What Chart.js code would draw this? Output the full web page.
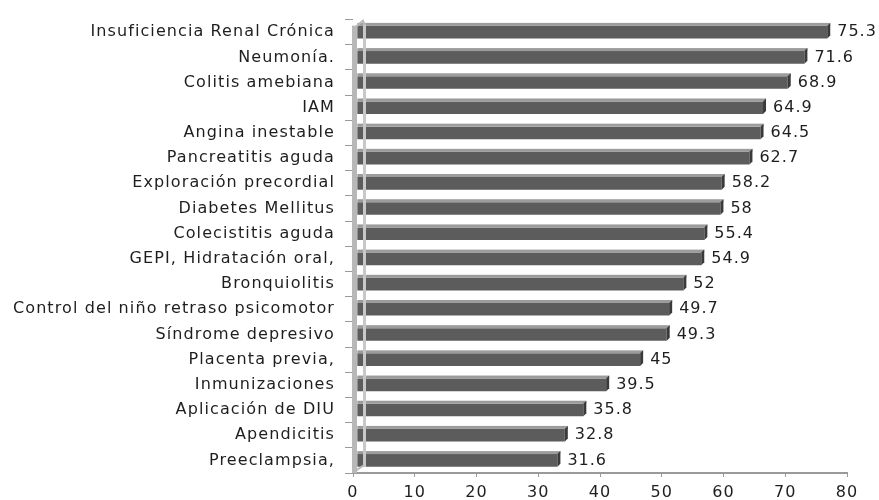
<!DOCTYPE html>
<html>
<head>
<meta charset="utf-8">
<script src="https://cdn.jsdelivr.net/npm/chart.js@4.4.1/dist/chart.umd.min.js"></script>
<style>
  html, body { margin: 0; padding: 0; background: #ffffff; }
  #wrap { width: 879px; height: 500px; position: relative; }
</style>
</head>
<body>
<div id="wrap"><canvas id="chart" width="879" height="500"></canvas></div>
<script>
// Data (top to bottom)
const categories = [
    'Insuficiencia Renal Crónica', 'Neumonía.', 'Colitis amebiana', 'IAM',
    'Angina inestable', 'Pancreatitis aguda', 'Exploración precordial',
    'Diabetes Mellitus', 'Colecistitis aguda', 'GEPI, Hidratación oral,',
    'Bronquiolitis', 'Control del niño retraso psicomotor', 'Síndrome depresivo',
    'Placenta previa,', 'Inmunizaciones', 'Aplicación de DIU', 'Apendicitis',
    'Preeclampsia,'
];
const values = [75.3, 71.6, 68.9, 64.9, 64.5, 62.7, 58.2, 58, 55.4, 54.9,
                52, 49.7, 49.3, 45, 39.5, 35.8, 32.8, 31.6];
const xTicks = [0, 10, 20, 30, 40, 50, 60, 70, 80];

const FONT = 'DejaVu Sans';

// wide text spacing like the original
const spacing = {
    id: 'spacing',
    beforeDraw(chart) { chart.ctx.letterSpacing = '1.1px'; }
};

// fake 3D look: light top edge, dark end cap, grey wall on the left
const bar3d = {
    id: 'bar3d',
    afterDatasetsDraw(chart) {
        const ctx = chart.ctx;
        const meta = chart.getDatasetMeta(0);
        const area = chart.chartArea;
        ctx.save();
        meta.data.forEach((bar, i) => {
            const top = bar.y - bar.height / 2;
            const bottom = bar.y + bar.height / 2;
            // top highlight
            ctx.fillStyle = '#9c9c9c';
            ctx.fillRect(bar.base, top - 3, bar.x - bar.base + 3, 3);
            // end cap
            ctx.fillStyle = '#3a3a3a';
            ctx.beginPath();
            ctx.moveTo(bar.x, top);
            ctx.lineTo(bar.x + 3, top - 3);
            ctx.lineTo(bar.x + 3, bottom - 3);
            ctx.lineTo(bar.x, bottom);
            ctx.closePath();
            ctx.fill();
            // value label
            ctx.fillStyle = '#1e1e1e';
            ctx.font = '16px ' + FONT;
            ctx.letterSpacing = '1px';
            ctx.textAlign = 'left';
            ctx.textBaseline = 'middle';
            ctx.fillText(String(values[i]), bar.x + 10, bar.y);
        });
        // wall
        ctx.fillStyle = '#b8b8b8';
        ctx.fillRect(area.left - 1, area.top + 6, 5, area.bottom - area.top - 6);
        ctx.fillStyle = '#c8c8c8';
        ctx.fillRect(area.left + 10, area.top + 4, 3, area.bottom - area.top - 10);
        ctx.beginPath();
        ctx.moveTo(area.left + 1, area.top + 9);
        ctx.lineTo(area.left + 10, area.top + 1);
        ctx.lineTo(area.left + 12, area.top + 6);
        ctx.strokeStyle = '#b8b8b8';
        ctx.lineWidth = 2;
        ctx.stroke();
        ctx.beginPath();
        ctx.moveTo(area.left + 1, area.bottom - 1);
        ctx.lineTo(area.left + 11, area.bottom - 8);
        ctx.stroke();
        ctx.restore();
    }
};

new Chart(document.getElementById('chart'), {
    type: 'bar',
    data: {
        labels: categories,
        datasets: [{
            data: values,
            xAxisID: 'depth',
            base: -0.8,
            backgroundColor: '#5c5c5c',
            borderWidth: 0,
            categoryPercentage: 1,
            barPercentage: 0.5
        }]
    },
    options: {
        indexAxis: 'y',
        responsive: false,
        animation: false,
        layout: { padding: { top: 15, right: 32, left: 0, bottom: 0 } },
        plugins: {
            legend: { display: false },
            tooltip: { enabled: false }
        },
        scales: {
            x: {
                min: 0,
                max: 80,
                afterBuildTicks: (scale) => { scale.ticks = xTicks.map(v => ({ value: v })); },
                afterFit: (scale) => { scale.height = 27; },
                grid: {
                    drawOnChartArea: false,
                    tickLength: 4,
                    color: '#9a9a9a'
                },
                border: { color: '#9a9a9a', width: 2 },
                ticks: {
                    color: '#1e1e1e',
                    font: { family: FONT, size: 16 },
                    padding: 6
                }
            },
            // bars sit in front of the back wall, shifted a little to the right
            depth: {
                axis: 'x',
                display: false,
                min: -1.5,
                max: 78.5
            },
            y: {
                afterFit: (scale) => { scale.width = 353; },
                grid: {
                    drawOnChartArea: false,
                    tickLength: 8,
                    color: '#9a9a9a',
                    offset: true
                },
                border: { display: false },
                ticks: {
                    color: '#1e1e1e',
                    font: { family: FONT, size: 16 },
                    padding: 10,
                    autoSkip: false
                }
            }
        }
    },
    plugins: [spacing, bar3d]
});
</script>
</body>
</html>
